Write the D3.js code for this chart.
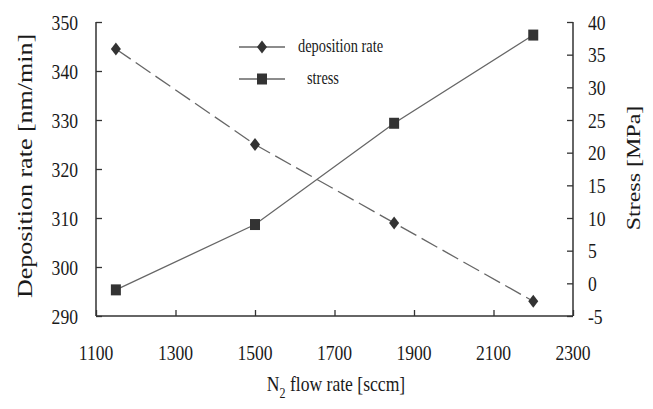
<!DOCTYPE html>
<html>
<head>
<meta charset="utf-8">
<script src="https://cdn.jsdelivr.net/npm/d3@7"></script>
<style>
  html, body { margin: 0; padding: 0; background: #fff; }
</style>
</head>
<body>
<svg id="chart" width="653" height="409" font-family="'Liberation Serif', 'DejaVu Serif', serif"></svg>
<script>
// N2 flow rate settings (sccm)
const flowRates = [1150, 1500, 1850, 2200];
// Deposition rate (nm/min), left axis
const depositionRate = [344.5, 325, 309, 293];
// Film stress (MPa), right axis
const stressValues = [-1, 9, 24.5, 38];
// Tick values
const xTicks = [1100, 1300, 1500, 1700, 1900, 2100, 2300];
const leftTicks = [290, 300, 310, 320, 330, 340, 350];
const rightTicks = [-5, 0, 5, 10, 15, 20, 25, 30, 35, 40];
const seriesNames = ["deposition rate", "stress"];

const svg = d3.select("#chart");
const plot = { left: 96, right: 573, top: 22, bottom: 316 };
const SX = 0.8; // glyphs are set narrow
const textColor = "#1a1a1a";

const x = d3.scaleLinear().domain([1100, 2300]).range([plot.left, plot.right]);
const yL = d3.scaleLinear().domain([290, 350]).range([plot.bottom, plot.top]);
const yR = d3.scaleLinear().domain([-5, 40]).range([plot.bottom, plot.top]);

const axisColor = "#333";

// narrow text helper for horizontal labels
function narrowText(g, px, py, txt, size, anchor) {
  return g.append("text")
    .attr("transform", `translate(${px},${py}) scale(${SX},1)`)
    .attr("font-size", size)
    .attr("fill", textColor)
    .attr("text-anchor", anchor)
    .text(txt);
}

// Axes (ticks point inward)
const xAxis = d3.axisBottom(x).tickValues(xTicks).tickSize(-6).tickFormat("");
const gx = svg.append("g").attr("transform", `translate(0,${plot.bottom})`).call(xAxis);
const lAxis = d3.axisLeft(yL).tickValues(leftTicks).tickSize(-6).tickFormat("");
const gl = svg.append("g").attr("transform", `translate(${plot.left},0)`).call(lAxis);
const rAxis = d3.axisRight(yR).tickValues(rightTicks).tickSize(-6).tickFormat("");
const gr = svg.append("g").attr("transform", `translate(${plot.right},0)`).call(rAxis);
[gx, gl, gr].forEach(g => {
  g.select(".domain").attr("stroke", axisColor).attr("stroke-width", 1.5);
  g.selectAll(".tick line").attr("stroke", axisColor).attr("stroke-width", 1.3);
});
gx.select(".domain").attr("d", `M${plot.left},0H${plot.right}`);
gl.select(".domain").attr("d", `M0,${plot.top}V${plot.bottom}`);
gr.select(".domain").attr("d", `M0,${plot.top}V${plot.bottom}`);

// Tick labels
const labels = svg.append("g");
xTicks.forEach(v => narrowText(labels, x(v), 360, String(v), 22, "middle"));
leftTicks.forEach(v => narrowText(labels, plot.left - 18, yL(v) + 7.5, String(v), 22, "end"));
rightTicks.forEach(v => narrowText(labels, plot.right + 15, yR(v) + 7.5, String(v), 22, "start"));

// Axis titles
svg.append("text")
  .attr("transform", `translate(32,166) rotate(-90) scale(1,${SX})`)
  .attr("font-size", 26).attr("text-anchor", "middle").attr("fill", textColor)
  .text("Deposition rate [nm/min]");
svg.append("text")
  .attr("transform", `translate(640,168) rotate(-90) scale(1,${SX})`)
  .attr("font-size", 24).attr("text-anchor", "middle").attr("fill", textColor)
  .text("Stress [MPa]");
const xt = svg.append("text")
  .attr("transform", `translate(336,391) scale(${SX},1)`)
  .attr("font-size", 22).attr("text-anchor", "middle").attr("fill", textColor);
xt.append("tspan").text("N");
xt.append("tspan").attr("font-size", 15).attr("dy", 7).text("2");
xt.append("tspan").attr("dy", -7).text(" flow rate [sccm]");

// Series
const depData = flowRates.map((f, i) => ({ f, v: depositionRate[i] }));
const strData = flowRates.map((f, i) => ({ f, v: stressValues[i] }));
const lineColor = "#666";

svg.append("path").datum(depData)
  .attr("fill", "none").attr("stroke", lineColor).attr("stroke-width", 1.3)
  .attr("stroke-dasharray", "18,6")
  .attr("d", d3.line().x(d => x(d.f)).y(d => yL(d.v)));
svg.append("path").datum(strData)
  .attr("fill", "none").attr("stroke", lineColor).attr("stroke-width", 1.3)
  .attr("d", d3.line().x(d => x(d.f)).y(d => yR(d.v)));

const markColor = "#333";
const diamond = "M0,-6.5L5,0L0,6.5L-5,0Z";
const square = "M-5,-5.5H5V5.5H-5Z";
svg.append("g").selectAll("path").data(depData).join("path")
  .attr("d", diamond).attr("fill", markColor)
  .attr("transform", d => `translate(${x(d.f)},${yL(d.v)})`);
svg.append("g").selectAll("path").data(strData).join("path")
  .attr("d", square).attr("fill", markColor)
  .attr("transform", d => `translate(${x(d.f)},${yR(d.v)})`);

// Legend
const legend = svg.append("g");
const legendRows = [
  { name: seriesNames[0], shape: diamond, y: 47, tx: 298 },
  { name: seriesNames[1], shape: square, y: 79, tx: 307 }
];
legendRows.forEach(r => {
  legend.append("line").attr("x1", 239).attr("x2", 285).attr("y1", r.y).attr("y2", r.y)
    .attr("stroke", lineColor).attr("stroke-width", 1.3);
  legend.append("path").attr("d", r.shape).attr("fill", markColor)
    .attr("transform", `translate(262,${r.y})`);
  narrowText(legend, r.tx, r.y + 5, r.name, 18, "start");
});
</script>
</body>
</html>
